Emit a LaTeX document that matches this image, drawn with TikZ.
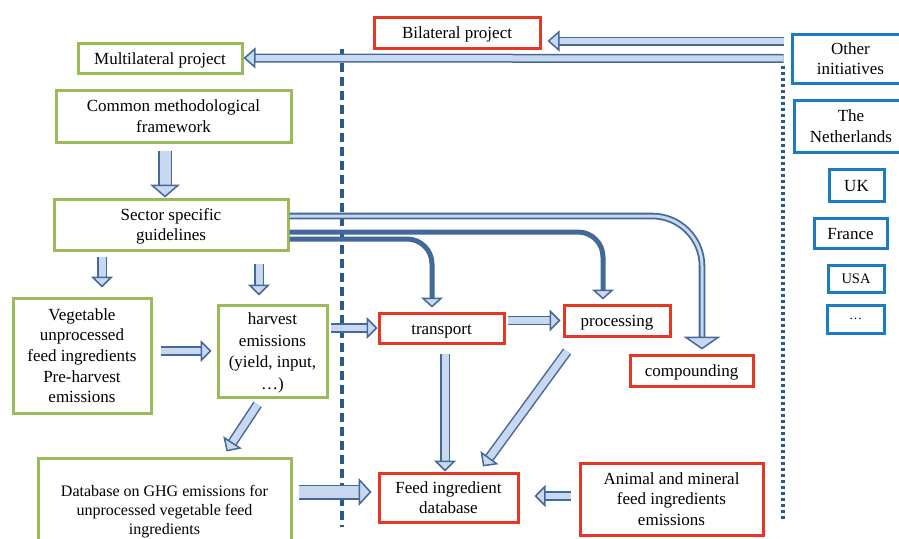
\documentclass[tikz,border=0pt]{standalone}
\usepackage{fontspec}
\setmainfont{Liberation Serif}
\usepackage{tikz}
\usetikzlibrary{shapes}
\usetikzlibrary{arrows.meta}
\usetikzlibrary{positioning}
\definecolor{boxgreen}{RGB}{155,187,89}
\definecolor{boxred}{RGB}{232,54,36}
\definecolor{boxblue}{RGB}{28,124,192}
\definecolor{arrline}{RGB}{68,105,152}
\definecolor{arrfill}{RGB}{200,216,238}
\definecolor{sepline}{RGB}{40,90,140}

\begin{document}
\begin{tikzpicture}[x=1pt,y=-1pt]
	\tikzset{box/.style = {shape=rectangle, draw, line width=3pt, align=center,
			inner sep=1pt, text depth=0pt, font=\fontsize{17}{20.7}\selectfont}}
	\tikzset{oneline/.style = {text height=13pt, text depth=1pt}}
	\tikzset{greenbox/.style = {box, draw=boxgreen}}
	\tikzset{redbox/.style = {box, draw=boxred}}
	\tikzset{bluebox/.style = {box, draw=boxblue}}
	\tikzset{barrow/.style n args = {3}{draw=arrline, line width=1.5pt,
			double=arrfill, double distance=#1,
			-{Triangle[length=#3, width=#2, fill=arrfill, line width=1.5pt]}}}
	\tikzset{solidarrow/.style = {draw=arrline, line width=5pt,
			-{Triangle[length=10pt, width=22pt, fill=arrfill, line width=1.5pt]}}}
	
	\useasboundingbox (0,0) rectangle (899,538);
	
	% separators
	\draw[sepline, line width=3.5pt, dash pattern=on 9pt off 5pt] (342,49) -- (342,527);
	\draw[sepline, line width=3.3pt, dash pattern=on 3.3pt off 2.7pt] (783,66) -- (783,520);
	
	% boxes
	\node[greenbox, oneline, minimum width=164pt, minimum height=30pt] (mp) at (160,58) {Multilateral project};
	\node[redbox, oneline, minimum width=166pt, minimum height=31pt] (bp) at (457,32.5) {Bilateral project};
	\node[greenbox, minimum width=235pt, minimum height=52pt] (cmf) at (173.5,116) {Common methodological\\framework};
	\node[greenbox, minimum width=234pt, minimum height=51pt] (ssg) at (171,224.5) {Sector specific\\guidelines};
	\node[greenbox, minimum width=138pt, minimum height=115pt] (veg) at (82,355.5) {Vegetable\\unprocessed\\feed ingredients\\Pre-harvest\\emissions};
	\node[greenbox, minimum width=109pt, minimum height=92pt, text depth=-3pt,
		font=\fontsize{17}{21.5}\selectfont] (hv) at (272.5,351) {harvest\\emissions\\(yield, input,\\…)};
	\node[greenbox, minimum width=253pt, minimum height=104pt,
		font=\fontsize{16}{18.7}\selectfont] (db) at (164.5,510) {Database on GHG emissions for\\unprocessed vegetable feed\\ingredients};
	\node[redbox, oneline, minimum width=125pt, minimum height=30pt] (tr) at (441.5,328) {transport};
	\node[redbox, oneline, minimum width=106pt, minimum height=31pt] (pr) at (617,320.5) {processing};
	\node[redbox, oneline, minimum width=123pt, minimum height=31pt] (cp) at (691.5,370.5) {compounding};
	\node[redbox, minimum width=139pt, minimum height=49pt] (fid) at (448.5,497.5) {Feed ingredient\\database};
	\node[redbox, minimum width=183pt, minimum height=72pt] (amf) at (671.5,499) {Animal and mineral\\feed ingredients\\emissions};
	\node[bluebox, minimum width=117pt, minimum height=49pt] (oi) at (850.5,58.5) {Other\\initiatives};
	\node[bluebox, minimum width=114pt, minimum height=52pt] (nl) at (851,126) {The\\Netherlands};
	\node[bluebox, oneline, minimum width=55pt, minimum height=32pt] (uk) at (856.5,185) {UK};
	\node[bluebox, oneline, minimum width=73pt, minimum height=30pt] (fr) at (850.5,233) {France};
	\node[bluebox, minimum width=56pt, minimum height=27pt,
		font=\fontsize{14.5}{16}\selectfont] (us) at (856,278.5) {USA};
	\node[bluebox, minimum width=57pt, minimum height=28pt,
		font=\fontsize{13}{15}\selectfont] (etc) at (855.5,319) {…};
	
	% arrows
	\coordinate (t1) at ([xshift=-7pt,yshift=17.5pt]oi.west);
	\draw[barrow={6pt}{21pt}{12pt}] (t1) -- ([xshift=6pt]bp.east |- t1);
	\draw[barrow={6pt}{21pt}{12pt}] ([xshift=-7pt]oi.west) -- (mp.east);
	\draw[barrow={11pt}{30pt}{13pt}] ([xshift=-8.5pt,yshift=-7pt]cmf.south) -- ([xshift=-6pt]ssg.north);
	\draw[barrow={7pt}{22pt}{11pt}] ([xshift=20pt,yshift=-5pt]veg.north |- ssg.south) -- ([xshift=20pt,yshift=9pt]veg.north);
	\draw[barrow={7pt}{22pt}{11pt}] ([xshift=-13.5pt,yshift=-12.5pt]hv.north |- ssg.south) -- ([xshift=-13.5pt,yshift=8pt]hv.north);
	\draw[barrow={6.5pt}{22pt}{11pt}] ([xshift=8pt]veg.east |- hv.west) -- ([xshift=-5pt]hv.west);
	\draw[barrow={6.5pt}{22pt}{11pt}] ([xshift=2pt]hv.east |- tr.west) -- (tr.west);
	\draw[barrow={7pt}{22pt}{11pt}] ([xshift=-15pt,yshift=-6pt]hv.south) -- ([xshift=62pt,yshift=5pt]db.north);
	\draw[barrow={12pt}{28pt}{13pt}] ([xshift=6pt,yshift=5.5pt]db.east |- fid.west) -- ([xshift=-6pt,yshift=5.5pt]fid.west);
	\draw[barrow={7pt}{22pt}{11pt}] ([xshift=3.5pt,yshift=-9pt]tr.south) -- ([xshift=-3.5pt]fid.north);
	\draw[barrow={7pt}{22pt}{11pt}] ([xshift=-50pt,yshift=-14pt]pr.south) -- ([xshift=34.5pt,yshift=5pt]fid.north);
	\draw[barrow={6.5pt}{22pt}{11pt}] ([xshift=2pt]tr.east |- pr.west) -- ([xshift=-2pt]pr.west);
	\draw[barrow={6.5pt}{22pt}{11pt}] ([xshift=-8pt,yshift=3pt]amf.west) -- ([xshift=15pt,yshift=3pt]fid.east |- amf.west);
	
	% curved arrows from the guidelines
	\draw[solidarrow, rounded corners=25pt] ([yshift=-14.5pt]ssg.east) -| ([xshift=-9.5pt,yshift=4pt]tr.north);
	\draw[solidarrow, rounded corners=25pt] ([yshift=-7.5pt]ssg.east) -| ([xshift=-14pt,yshift=4pt]pr.north);
	\draw[barrow={3pt}{37pt}{13pt}, line width=1.8pt, rounded corners=50pt] ([yshift=8.5pt]ssg.east) -| ([xshift=10.5pt,yshift=4pt]cp.north);
	
\end{tikzpicture}
\end{document}
